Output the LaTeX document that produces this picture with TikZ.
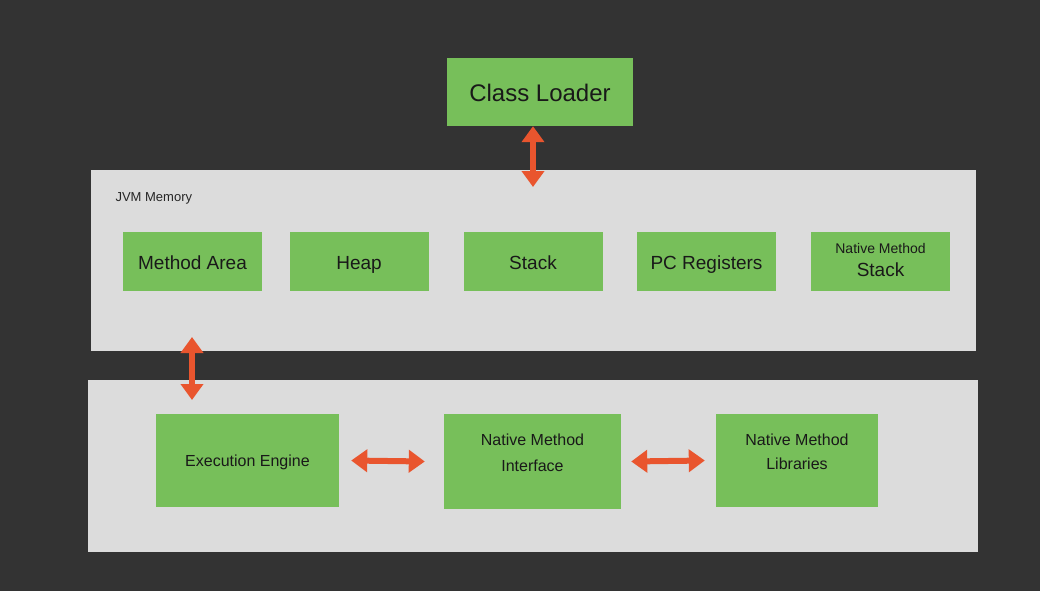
\documentclass[tikz,border=0pt]{standalone}
\usepackage{fontspec}
\setmainfont{Liberation Sans}
\usetikzlibrary{arrows.meta}
\definecolor{bgc}{HTML}{333333}
\definecolor{panelc}{HTML}{DCDCDC}
\definecolor{greenc}{HTML}{77BF5A}
\definecolor{arrowc}{HTML}{E9552E}
\tikzset{
  panel/.style={fill=panelc, draw=none},
  gbox/.style={fill=greenc, draw=none, inner sep=0pt, align=center, text=black!90},
  gtext/.style={inner sep=0pt, align=center, text=black!90},
  bigarrow/.style={arrowc, line width=6pt, {Triangle[length=16pt,width=22pt]}-{Triangle[length=16pt,width=22pt]}},
}
\begin{document}
\begin{tikzpicture}[x=1pt,y=-1pt]
\fill[bgc] (0,0) rectangle (1040,591);
\useasboundingbox (0,0) rectangle (1040,591);
% panels
\node[panel, minimum width=885pt, minimum height=181pt, anchor=north west] (mem) at (91,170) {};
\node[panel, minimum width=890pt, minimum height=172pt, anchor=north west] (low) at (88,380) {};
\node[anchor=west, font=\fontsize{13}{15}\selectfont, text=black!85] (memlbl) at (112,198) {JVM Memory};
% class loader
\node[gbox, minimum width=186pt, minimum height=68pt, font=\fontsize{24}{28}\selectfont] (cl) at (540,92) {};
\node[gtext, font=\fontsize{24}{28}\selectfont] (clt) at (540,92.5) {Class Loader};
% memory boxes
\tikzset{mbox/.style={gbox, minimum width=139pt, minimum height=59pt, font=\fontsize{19}{22}\selectfont, text height=19pt, text depth=4pt}}
\node[mbox] (ma) at (192.5,261.5) {Method Area};
\node[mbox] (heap) at (359,261.5) {Heap};
\node[mbox] (stack) at (533,261.5) {Stack};
\node[mbox] (pc) at (706.5,261.5) {PC Registers};
\node[gbox, minimum width=139pt, minimum height=59pt] (nms) at (880.5,261.5) {};
\node[gtext, font=\fontsize{19}{22}\selectfont] (nmst) at (880.5,260) {{\fontsize{14}{16}\selectfont Native Method}\\[1pt]Stack};
% lower boxes
\tikzset{lbox/.style={gbox, minimum height=93pt}, ltext/.style={gtext, font=\fontsize{16}{26}\selectfont}}
\node[lbox, minimum width=183pt] (ee) at (247.5,460.5) {};
\node[ltext] (eet) at (247.5,462) {Execution Engine};
\node[lbox, minimum width=177pt, minimum height=95pt] (nmi) at (532.5,461.5) {};
\node[ltext] (nmit) at (532.5,453) {Native Method\\Interface};
\node[lbox, minimum width=162pt] (nml) at (797,460.5) {};
\node[ltext, font=\fontsize{16}{24}\selectfont] (nmlt) at (797,452) {Native Method\\Libraries};
% arrows
\coordinate (memtop) at (533,187);
\coordinate (membot) at (192,337);
\coordinate (lowtop) at (192,400);
\draw[bigarrow] (cl.south -| memtop) -- (memtop);
\draw[bigarrow] (membot) -- (lowtop);
\draw[bigarrow] ([xshift=12pt]ee.east) -- ([xshift=-19pt]nmi.west);
\draw[bigarrow] ([xshift=10pt]nmi.east) -- ([xshift=-11pt]nml.west);
\end{tikzpicture}
\end{document}
